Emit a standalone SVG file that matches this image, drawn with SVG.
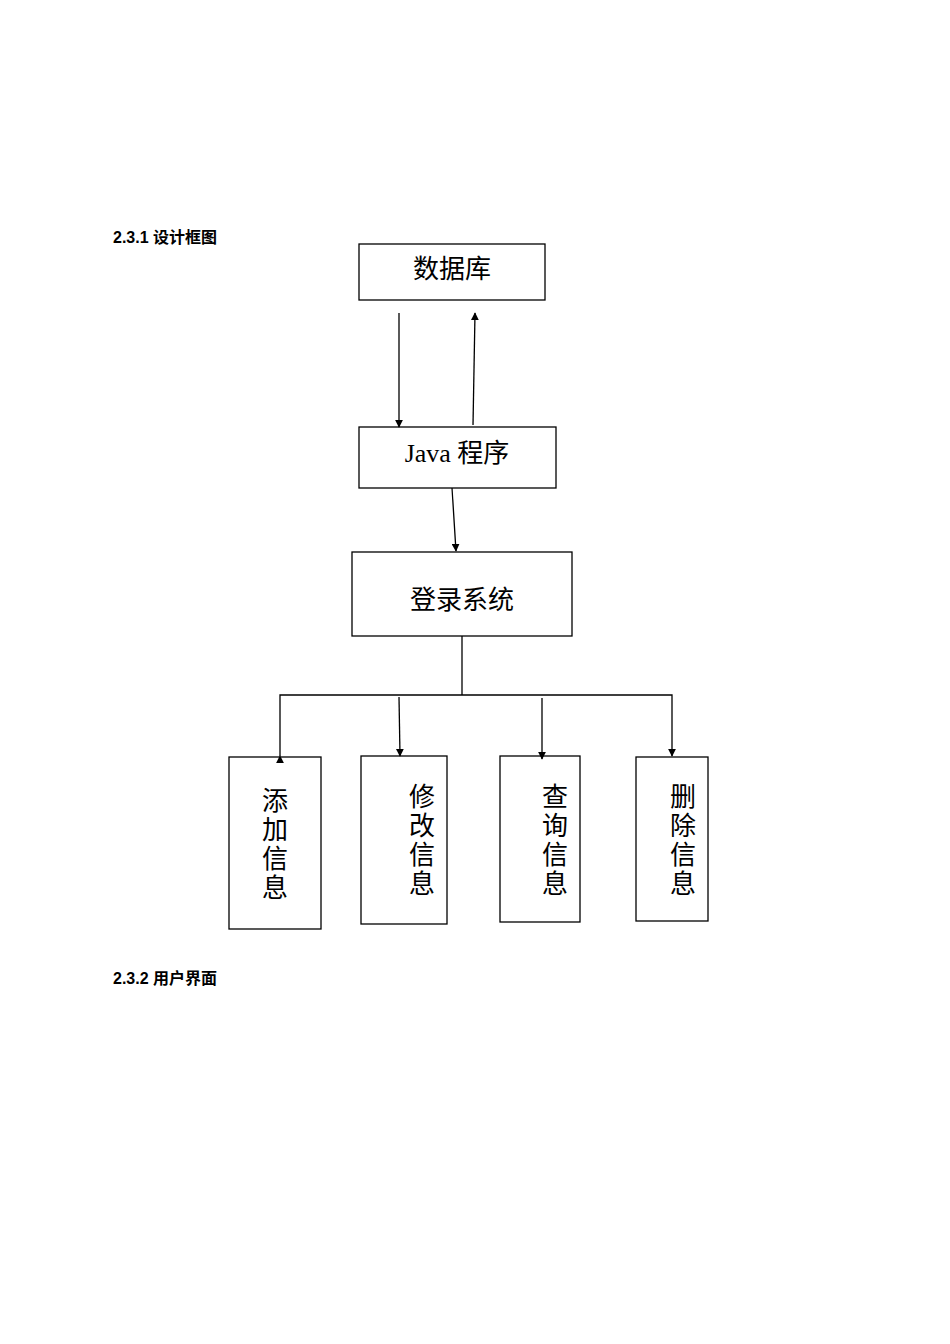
<svg xmlns="http://www.w3.org/2000/svg" width="950" height="1344" viewBox="0 0 950 1344">
<style>
.box{fill:#fff;stroke:#000;stroke-width:1.3}
.t{font-family:"Liberation Serif","Noto Sans CJK SC",serif;font-size:26px;fill:#000}
.h{font-family:"Liberation Sans","Noto Sans CJK SC",sans-serif;font-size:16px;font-weight:bold;fill:#000}
.c{stroke:#000;stroke-width:1.3;fill:none}
</style>
<defs><marker id="a" viewBox="0 0 10 10" refX="9" refY="5" markerWidth="8" markerHeight="8" markerUnits="userSpaceOnUse" orient="auto"><path d="M0,0L10,5L0,10z" fill="#000"/></marker></defs>
<rect width="950" height="1344" fill="#fff"/>
<text class="h" x="113" y="243">2.3.1 设计框图</text>
<text class="h" x="113" y="984">2.3.2 用户界面</text>
<g id="db"><rect class="box" x="359" y="244" width="186" height="56"/><text class="t" x="452" y="278" text-anchor="middle">数据库</text></g>
<g id="java"><rect class="box" x="359" y="427" width="197" height="61"/><text class="t" x="457" y="462" text-anchor="middle">Java 程序</text></g>
<g id="login"><rect class="box" x="352" y="552" width="220" height="84"/><text class="t" x="462" y="609" text-anchor="middle">登录系统</text></g>
<g id="add"><rect class="box" x="229" y="757" width="92" height="172"/><text class="t" x="275" y="810" text-anchor="middle"><tspan x="275">添</tspan><tspan x="275" dy="29">加</tspan><tspan x="275" dy="29">信</tspan><tspan x="275" dy="29">息</tspan></text></g>
<g id="mod"><rect class="box" x="361" y="756" width="86" height="168"/><text class="t" x="422" y="806" text-anchor="middle"><tspan x="422">修</tspan><tspan x="422" dy="29">改</tspan><tspan x="422" dy="29">信</tspan><tspan x="422" dy="29">息</tspan></text></g>
<g id="query"><rect class="box" x="500" y="756" width="80" height="166"/><text class="t" x="555" y="806" text-anchor="middle"><tspan x="555">查</tspan><tspan x="555" dy="29">询</tspan><tspan x="555" dy="29">信</tspan><tspan x="555" dy="29">息</tspan></text></g>
<g id="del"><rect class="box" x="636" y="757" width="72" height="164"/><text class="t" x="683" y="806" text-anchor="middle"><tspan x="683">删</tspan><tspan x="683" dy="29">除</tspan><tspan x="683" dy="29">信</tspan><tspan x="683" dy="29">息</tspan></text></g>
<g id="connectors">
<line class="c" x1="399" y1="313" x2="399" y2="427" marker-end="url(#a)"/>
<line class="c" x1="473" y1="425" x2="475" y2="313" marker-end="url(#a)"/>
<line class="c" x1="452" y1="488" x2="456" y2="551" marker-end="url(#a)"/>
<polyline class="c" points="462,636 462,695"/>
<polyline class="c" points="280,756 280,695 672,695 672,756" marker-start="url(#a)" marker-end="url(#a)"/>
<line class="c" x1="399" y1="697" x2="400" y2="756" marker-end="url(#a)"/>
<line class="c" x1="542" y1="698" x2="542" y2="759" marker-end="url(#a)"/>
</g>
</svg>
